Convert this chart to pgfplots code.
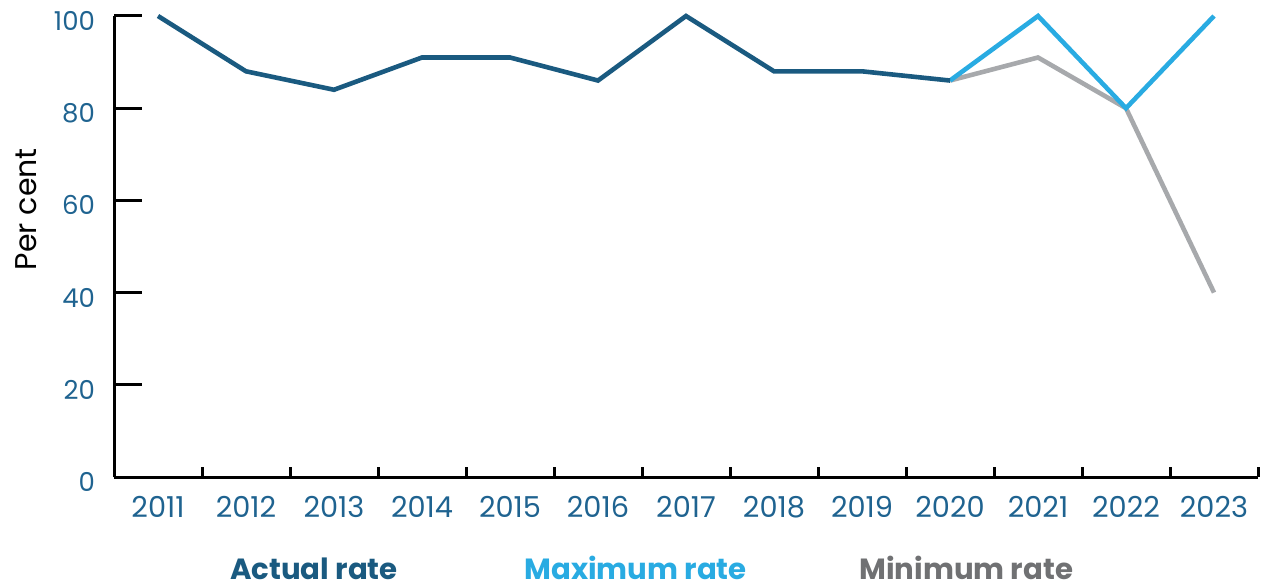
\documentclass[border=0pt]{standalone}
\usepackage{fontspec}
\setmainfont{Poppins}
\usepackage{pgfplots}
\pgfplotsset{compat=1.18}
\definecolor{actual}{HTML}{1A5A80}
\definecolor{ticktxt}{HTML}{1F6390}
\definecolor{maxc}{HTML}{29ABE2}
\definecolor{minc}{HTML}{A7A9AC}
\definecolor{mintxt}{HTML}{707173}
\begin{document}
\begin{tikzpicture}
\begin{axis}[
  scale only axis, width=572pt, height=230.5pt,
  xmin=-0.5, xmax=12.5, ymin=0, ymax=100,
  clip=false,
  axis x line*=bottom, axis y line*=left,
  axis line style={-, line width=1.5pt, black},
  xtick={-0.5,0.5,...,12.5},
  x tick label as interval,
  xticklabels={2011,2012,2013,2014,2015,2016,2017,2018,2019,2020,2021,2022,2023},
  ytick={0,20,40,60,80,100},
  tick align=inside,
  xtick style={/pgfplots/major tick length=5pt, line width=1.5pt, black},
  ytick style={/pgfplots/major tick length=14pt, line width=1.5pt, black},
  /pgf/number format/assume math mode=true,
  xticklabel style={font=\fontsize{14.4}{16}\selectfont, text=ticktxt, yshift=-6pt},
  yticklabel style={font=\fontsize{13}{15}\selectfont, text=ticktxt, xshift=-6pt, yshift=-2.5pt},
  ylabel={Per cent},
  ylabel style={font=\fontsize{15}{17}\selectfont, text=black, at={(axis description cs:-0.0769,0.581)}, anchor=center},
]
\addplot[minc, line width=2.3pt] coordinates {(9,86) (10,91) (11,80) (12,40)};
\addplot[maxc, line width=2.3pt] coordinates {(9,86) (10,100) (11,80) (12,100)};
\addplot[actual, line width=2.3pt] coordinates {(0,100) (1,88) (2,84) (3,91) (4,91) (5,86) (6,100) (7,88) (8,88) (9,86)};
\coordinate (O) at (rel axis cs:0,0);
\node[anchor=base, inner sep=0pt, font=\bfseries\fontsize{14.6}{16}\selectfont, text=actual] at ([yshift=-51pt]axis description cs:0.1748,0) {Actual rate};
\node[anchor=base, inner sep=0pt, font=\bfseries\fontsize{14.6}{16}\selectfont, text=maxc] at ([yshift=-51pt]axis description cs:0.456,0) {Maximum rate};
\node[anchor=base, inner sep=0pt, font=\bfseries\fontsize{14.6}{16}\selectfont, text=mintxt] at ([yshift=-51pt]axis description cs:0.745,0) {Minimum rate};
\end{axis}
\pgfresetboundingbox
\path ([xshift=-57pt,yshift=-53.5pt]O) rectangle ([xshift=574pt,yshift=238.5pt]O);
\end{tikzpicture}
\end{document}
